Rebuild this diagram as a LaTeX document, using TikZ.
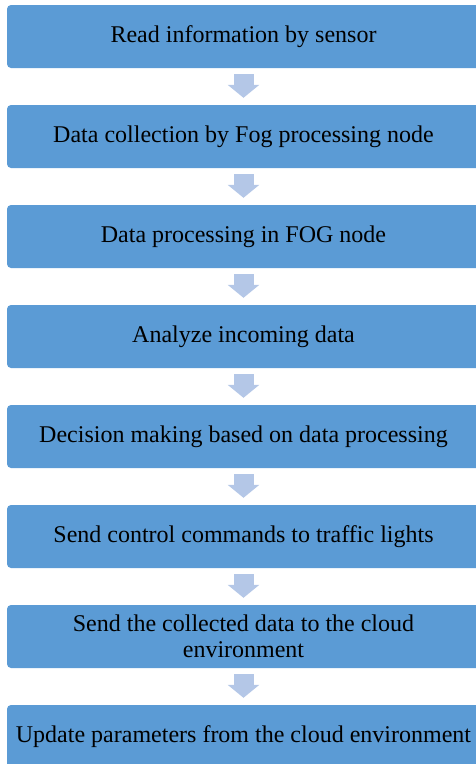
\documentclass[tikz,border=0pt]{standalone}
\usepackage{fontspec}
\setmainfont{Liberation Serif}
\usetikzlibrary{positioning,arrows.meta}
\definecolor{boxblue}{HTML}{5B9BD5}
\definecolor{arrowblue}{HTML}{B4C7E7}

\begin{document}
\begin{tikzpicture}[x=1pt,y=1pt,
  stepbox/.style={fill=boxblue, rounded corners=4pt, minimum width=473pt,
    minimum height=63pt, inner sep=0pt, align=center,
    font=\fontsize{24}{26.5}\selectfont},
  flow/.style={arrowblue, line width=20pt, -{Triangle[width=31pt,length=13pt]}}]
  \useasboundingbox (0,0) rectangle (476,-764);

  \node[stepbox] (read) at (243.5,-36.5) {Read information by sensor};
  \node[stepbox, below=36.6pt of read] (collect) {Data collection by Fog processing node};
  \node[stepbox, below=36.6pt of collect] (process) {Data processing in FOG node};
  \node[stepbox, below=36.6pt of process] (analyze) {Analyze incoming data};
  \node[stepbox, below=36.6pt of analyze] (decide) {Decision making based on data processing};
  \node[stepbox, below=36.6pt of decide] (control) {Send control commands to traffic lights};
  \node[stepbox, below=36.6pt of control] (send) {Send the collected data to the cloud\\environment};
  \node[stepbox, below=36.6pt of send] (update) {Update parameters from the cloud environment};

  \foreach \a/\b in {read/collect,collect/process,process/analyze,analyze/decide,
                     decide/control,control/send,send/update}
    \draw[flow] ([yshift=-6pt]\a.south) -- ([yshift=7pt]\b.north);
\end{tikzpicture}
\end{document}
